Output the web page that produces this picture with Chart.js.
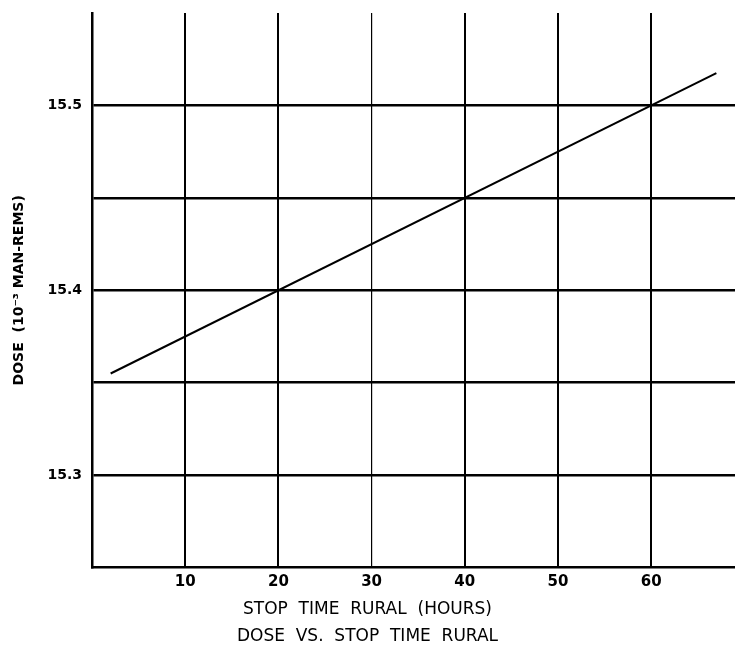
<!DOCTYPE html>
<html>
<head>
<meta charset="utf-8">
<script src="https://cdn.jsdelivr.net/npm/chart.js@4"></script>
<style>
  html, body { margin: 0; padding: 0; background: #fff; }
  #wrap { width: 735px; height: 650px; }
</style>
</head>
<body>
<div id="wrap"><canvas id="grafico"></canvas></div>
<script>
// valores
const stopTimes = [2, 67];
const doseValues = [15.355, 15.5175];
const xTickLabels = [10, 20, 30, 40, 50, 60];
const yTickLabels = [15.3, 15.4, 15.5];

const tituloX = 'STOP  TIME  RURAL  (HOURS)';
const legenda = 'DOSE  VS.  STOP  TIME  RURAL';
const tituloY = 'DOSE  (10\u207B\u00B3 MAN-REMS)';

const pontos = stopTimes.map((x, i) => ({ x: x, y: doseValues[i] }));

function arred(v) { return Math.round(v * 100) / 100; }

const ctx = document.getElementById('grafico').getContext('2d');
new Chart(ctx, {
    type: 'line',
    data: {
        datasets: [{
            data: pontos,
            borderColor: '#000',
            borderWidth: 2,
            pointRadius: 0,
            fill: false,
            tension: 0
        }]
    },
    options: {
        responsive: true,
        maintainAspectRatio: false,
        animation: false,
        layout: { padding: { top: 13, left: 0, right: 0, bottom: 0 } },
        plugins: {
            legend: { display: false },
            tooltip: { enabled: false },
            title: {
                display: true,
                position: 'bottom',
                text: [tituloX, legenda],
                color: '#000',
                font: { family: 'DejaVu Sans', size: 17, weight: 'normal', lineHeight: 1.6 },
                padding: { top: 2, bottom: 0 }
            }
        },
        scales: {
            x: {
                type: 'linear',
                min: 0,
                max: 69,
                afterFit: s => { s.height = 26; s.paddingRight = 0; s.paddingLeft = 0; },
                border: { display: true, color: '#000', width: 2.5 },
                grid: {
                    drawTicks: false,
                    color: c => (c.tick && c.tick.value > 0 ? '#000' : 'transparent'),
                    lineWidth: c => (c.tick && c.tick.value === 30 ? 1.2 : 2)
                },
                ticks: {
                    stepSize: 10,
                    includeBounds: false,
                    padding: 6,
                    color: '#000',
                    font: { family: 'DejaVu Sans', size: 15, weight: 'bold' },
                    maxRotation: 0,
                    callback: v => (xTickLabels.includes(v) ? String(v) : '')
                }
            },
            y: {
                type: 'linear',
                min: 15.25,
                max: 15.55,
                afterFit: s => { s.width = 92; s.paddingTop = 0; s.paddingBottom = 0; },
                border: { display: true, color: '#000', width: 2.5 },
                grid: {
                    drawTicks: false,
                    color: c => {
                        const v = c.tick ? arred(c.tick.value) : 0;
                        return (v > 15.25 && v < 15.55) ? '#000' : 'transparent';
                    },
                    lineWidth: 2.6
                },
                ticks: {
                    stepSize: 0.05,
                    padding: 10,
                    color: '#000',
                    font: { family: 'DejaVu Sans', size: 14, weight: 'bold' },
                    callback: v => (yTickLabels.includes(arred(v)) ? arred(v).toFixed(1) : '')
                },
                title: {
                    display: true,
                    text: tituloY,
                    color: '#000',
                    font: { family: 'DejaVu Sans', size: 14, weight: 'bold' },
                    padding: { top: 11, bottom: 0 }
                }
            }
        }
    }
});
</script>
</body>
</html>
